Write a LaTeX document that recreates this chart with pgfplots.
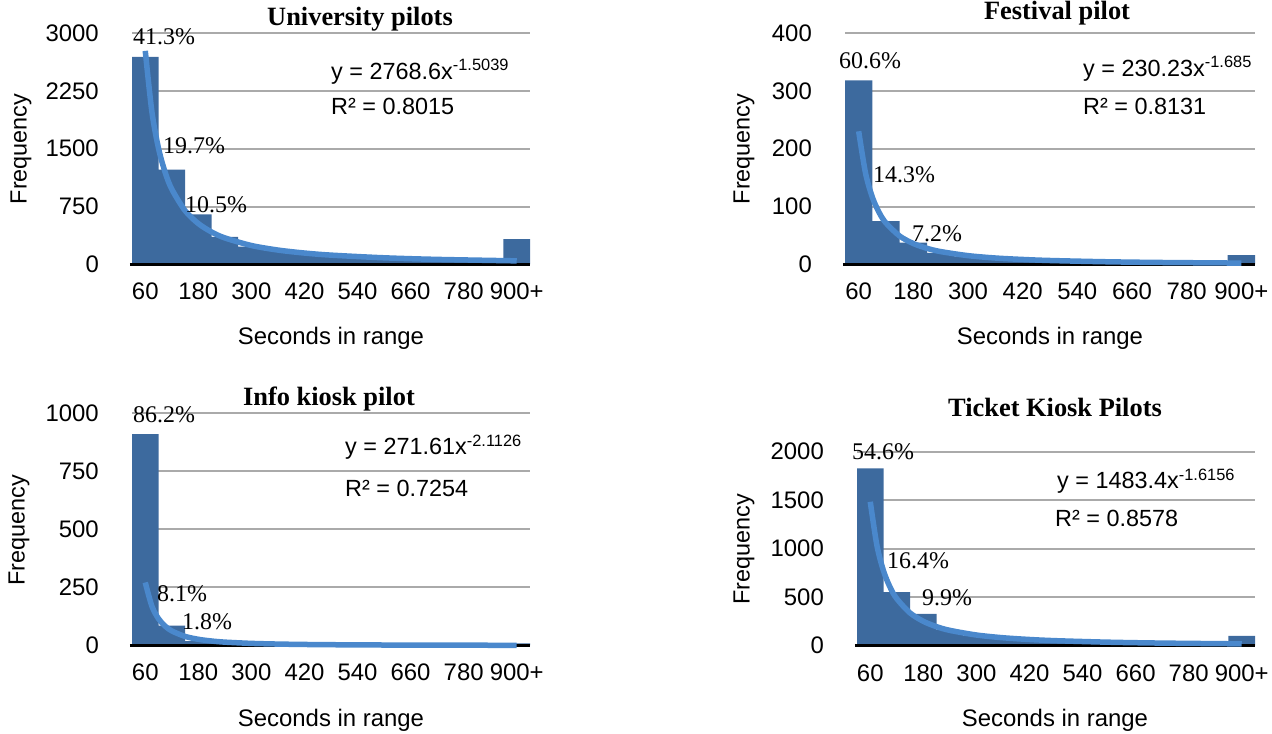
\documentclass[border=0pt]{standalone}
\usepackage{pgfplots}
\pgfplotsset{compat=1.18}
\usepackage{fontspec}
\setmainfont{Liberation Sans}
\newfontfamily\tnr{Liberation Serif}
\definecolor{barblue}{RGB}{61,106,158}
\definecolor{fitblue}{RGB}{74,136,204}
\definecolor{gridgray}{RGB}{170,170,170}
\pgfplotsset{
  hist/.style={
    scale only axis, anchor=south west,
    xmin=0.5, xmax=15.5, ymin=0,
    axis lines*=left,
    y axis line style={draw=none},
    x axis line style={draw=none},
    major tick length=0pt,
    ymajorgrids, grid style={gridgray, line width=2bp},
    xtick={1,3,5,7,9,11,13,15},
    xticklabels={60,180,300,420,540,660,780,900+},
    tick label style={font=\fontsize{24}{28}\selectfont},
    yticklabel style={anchor=east, inner sep=0pt, xshift=-33bp},
    xticklabel style={anchor=north, inner sep=0pt, yshift=-18.5bp},
    /pgf/number format/assume math mode=true,
    /pgf/number format/set thousands separator={},
    scaled y ticks=false,
    clip=false,
  },
  bars/.style={ybar, bar width=1, bar shift=0pt, fill=barblue, draw=none},
  fitline/.style={smooth, no markers, fitblue, line width=5.5bp},
}
\newcommand{\pct}{\tnr\fontsize{24}{28}\selectfont}
\newcommand{\ttl}{\tnr\bfseries\fontsize{26.5}{30}\selectfont}
\newcommand{\lab}{\fontsize{24}{28}\selectfont}
\newcommand{\ylab}{\fontsize{23.5}{28}\selectfont}
\newcommand{\eqf}{\fontsize{23.5}{28}\selectfont}
\begin{document}
\begin{tikzpicture}
\useasboundingbox (0,0) rectangle (1272bp,734bp);
% ---------- University pilots
\begin{axis}[hist, at={(132bp,469.5bp)}, width=398bp, height=231.5bp, ymax=3000, ytick={0,750,1500,2250,3000}]
\addplot[bars] coordinates {(1,2690) (2,1230) (3,650) (4,358) (5,230) (6,175) (7,140) (8,115) (9,95) (10,80) (11,65) (12,55) (13,48) (14,42) (15,328)};
\draw[black, line width=2.5bp] (axis cs:0.42,0) -- (axis cs:15.5,0);
\addplot[fitline] coordinates {(1,2768.6) (1.25,1979.3) (1.5,1504.6) (1.75,1193.4) (2,976.2) (2.5,697.9) (3,530.6) (3.5,420.8) (4,344.2) (5,246.0) (6,187.1) (7,148.4) (8,121.4) (10,86.8) (12,66.0) (15,47.2)};
\end{axis}
% ---------- Festival pilot
\begin{axis}[hist, at={(845bp,469.5bp)}, width=410bp, height=231.5bp, ymax=400, ytick={0,100,200,300,400}]
\addplot[bars] coordinates {(1,318) (2,75) (3,38) (4,20) (5,14) (6,10) (7,8) (8,6) (9,5) (10,4) (11,3.5) (12,3) (13,2.5) (14,2) (15,16)};
\draw[black, line width=2.5bp] (axis cs:0.42,0) -- (axis cs:15.5,0);
\addplot[fitline] coordinates {(1,230.2) (1.25,158.1) (1.5,116.3) (1.75,89.7) (2,71.6) (2.5,49.2) (3,36.2) (3.5,27.9) (4,22.3) (5,15.3) (6,11.2) (7,8.7) (8,6.9) (10,4.76) (12,3.50) (15,2.40)};
\end{axis}
% ---------- Info kiosk pilot
\begin{axis}[hist, at={(132bp,88.5bp)}, width=398bp, height=232bp, ymax=1000, ytick={0,250,500,750,1000}]
\addplot[bars] coordinates {(1,911) (2,86) (3,19) (4,12) (5,8) (6,5) (7,4) (8,3) (9,2) (10,2) (11,1.5) (12,1) (13,1) (14,1) (15,9)};
\draw[black, line width=2.5bp] (axis cs:0.42,0) -- (axis cs:15.5,0);
\addplot[fitline] coordinates {(1,271.6) (1.25,169.5) (1.5,115.3) (1.75,83.3) (2,62.8) (2.5,39.2) (3,26.7) (3.5,19.3) (4,14.5) (5,9.06) (6,6.17) (7,4.45) (8,3.36) (10,2.10) (12,1.43) (15,0.89)};
\end{axis}
% ---------- Ticket Kiosk Pilots
\begin{axis}[hist, at={(857bp,88.3bp)}, width=398bp, height=194bp, ymax=2000, ytick={0,500,1000,1500,2000}]
\addplot[bars] coordinates {(1,1829) (2,553) (3,327) (4,161) (5,105) (6,78) (7,60) (8,48) (9,40) (10,33) (11,28) (12,24) (13,20) (14,17) (15,100)};
\draw[black, line width=2.5bp] (axis cs:0.42,0) -- (axis cs:15.5,0);
\addplot[fitline] coordinates {(1,1483.4) (1.25,1034.4) (1.5,770.5) (1.75,600.6) (2,484.1) (2.5,337.6) (3,251.4) (3.5,196.0) (4,158.0) (5,110.2) (6,82.0) (7,64.0) (8,51.5) (10,35.9) (12,26.8) (15,18.7)};
\end{axis}
% ---------- titles
\node[anchor=base, inner sep=0] at (360bp,708bp) {\ttl University pilots};
\node[anchor=base, inner sep=0] at (1057bp,714bp) {\ttl Festival pilot};
\node[anchor=base, inner sep=0] at (329bp,328bp) {\ttl Info kiosk pilot};
\node[anchor=base, inner sep=0] at (1055bp,317bp) {\ttl Ticket Kiosk Pilots};
% ---------- y labels
\node[rotate=90, inner sep=0] at (21bp,585bp) {\ylab Frequency};
\node[rotate=90, inner sep=0] at (744bp,585bp) {\ylab Frequency};
\node[rotate=90, inner sep=0] at (19bp,204bp) {\ylab Frequency};
\node[rotate=90, inner sep=0] at (744bp,185bp) {\ylab Frequency};
% ---------- x labels
\node[anchor=base, inner sep=0] at (331bp,389bp) {\lab Seconds in range};
\node[anchor=base, inner sep=0] at (1050bp,389bp) {\lab Seconds in range};
\node[anchor=base, inner sep=0] at (331bp,8bp) {\lab Seconds in range};
\node[anchor=base, inner sep=0] at (1055bp,8bp) {\lab Seconds in range};
% ---------- equations
\node[anchor=base west, inner sep=0] at (331bp,654bp) {\eqf y = 2768.6x\textsuperscript{-1.5039}};
\node[anchor=base west, inner sep=0] at (331bp,619bp) {\eqf R² = 0.8015};
\node[anchor=base west, inner sep=0] at (1083bp,657bp) {\eqf y = 230.23x\textsuperscript{-1.685}};
\node[anchor=base west, inner sep=0] at (1083bp,619bp) {\eqf R² = 0.8131};
\node[anchor=base west, inner sep=0] at (345bp,279bp) {\eqf y = 271.61x\textsuperscript{-2.1126}};
\node[anchor=base west, inner sep=0] at (345bp,237bp) {\eqf R² = 0.7254};
\node[anchor=base west, inner sep=0] at (1057bp,245bp) {\eqf y = 1483.4x\textsuperscript{-1.6156}};
\node[anchor=base west, inner sep=0] at (1055bp,207bp) {\eqf R² = 0.8578};
% ---------- percentages
\node[anchor=base west, inner sep=0] at (133bp,689bp) {\pct 41.3\%};
\node[anchor=base west, inner sep=0] at (163bp,580bp) {\pct 19.7\%};
\node[anchor=base west, inner sep=0] at (185bp,521bp) {\pct 10.5\%};
\node[anchor=base west, inner sep=0] at (839bp,665bp) {\pct 60.6\%};
\node[anchor=base west, inner sep=0] at (873bp,551bp) {\pct 14.3\%};
\node[anchor=base west, inner sep=0] at (912bp,492bp) {\pct 7.2\%};
\node[anchor=base west, inner sep=0] at (133bp,311bp) {\pct 86.2\%};
\node[anchor=base west, inner sep=0] at (157bp,132bp) {\pct 8.1\%};
\node[anchor=base west, inner sep=0] at (182bp,104bp) {\pct 1.8\%};
\node[anchor=base west, inner sep=0] at (852bp,274bp) {\pct 54.6\%};
\node[anchor=base west, inner sep=0] at (887bp,165bp) {\pct 16.4\%};
\node[anchor=base west, inner sep=0] at (922bp,128bp) {\pct 9.9\%};
\end{tikzpicture}
\end{document}
